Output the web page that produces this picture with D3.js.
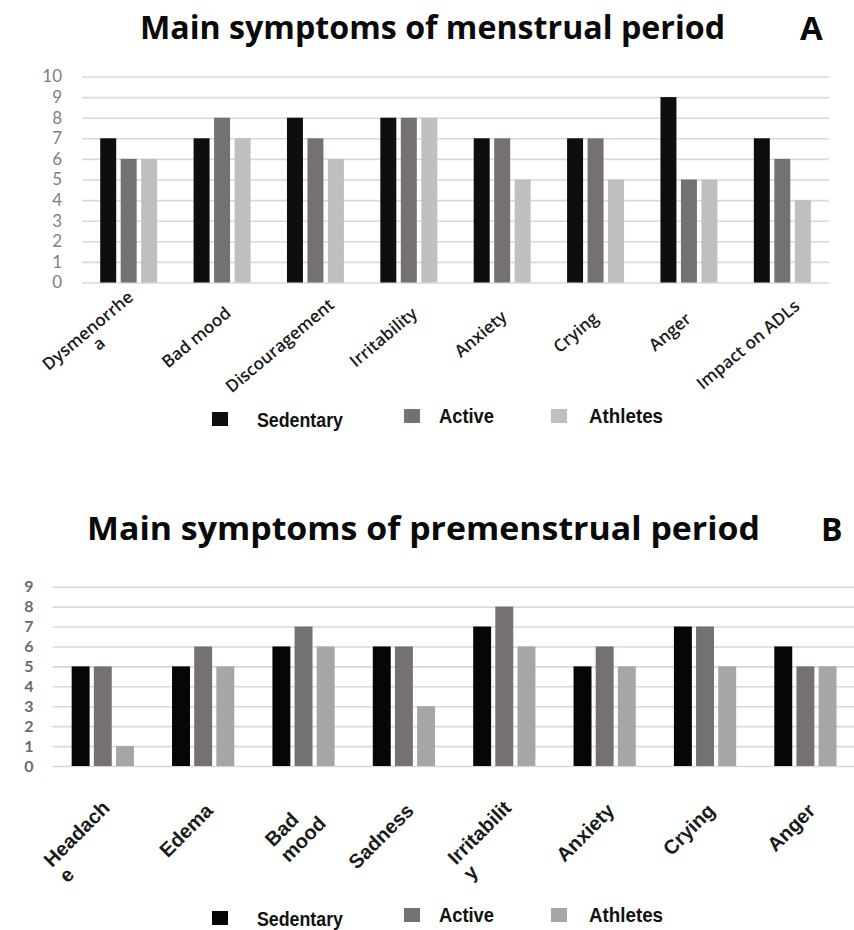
<!DOCTYPE html>
<html>
<head>
<meta charset="utf-8">
<script src="https://cdn.jsdelivr.net/npm/d3@7"></script>
<style>
  body { margin: 0; background: #fff; }
  svg { display: block; }
</style>
</head>
<body>
<div id="canvas"></div>
<script>
"use strict";

/* Data */
let seriesNames = ["Sedentary", "Active", "Athletes"];

// panel A - menstrual period ("\n" marks where the label wraps)
let categoriesA = ["Dysmenorrhe\na", "Bad mood", "Discouragement", "Irritability",
                   "Anxiety", "Crying", "Anger", "Impact on ADLs"];
let sedentaryA = [7, 7, 8, 8, 7, 7, 9, 7];
let activeA    = [6, 8, 7, 8, 7, 7, 5, 6];
let athletesA  = [6, 7, 6, 8, 5, 5, 5, 4];
let yTicksA = [0, 1, 2, 3, 4, 5, 6, 7, 8, 9, 10];

// panel B - premenstrual period
let categoriesB = ["Headach\ne", "Edema", "Bad\nmood", "Sadness",
                   "Irritabilit\ny", "Anxiety", "Crying", "Anger"];
let sedentaryB = [5, 5, 6, 6, 7, 5, 7, 6];
let activeB    = [5, 6, 7, 6, 8, 6, 7, 5];
let athletesB  = [1, 5, 6, 3, 6, 5, 5, 5];
let yTicksB = [0, 1, 2, 3, 4, 5, 6, 7, 8, 9];

let svgWidth = 854;
let svgHeight = 930;

let svg = d3.select("#canvas")
    .append("svg")
    .attr("width", svgWidth)
    .attr("height", svgHeight);

svg.append("rect")
    .attr("width", svgWidth)
    .attr("height", svgHeight)
    .attr("fill", "#ffffff");

// builds row objects for a panel
function makeRows(categories, s1, s2, s3) {
    return categories.map(function(c, i) {
        return { category: c, values: [s1[i], s2[i], s3[i]] };
    });
}

let panelA = {
    rows: makeRows(categoriesA, sedentaryA, activeA, athletesA),
    categories: categoriesA,
    yTicks: yTicksA,
    colors: ["#0e0e0e", "#767171", "#bfbfbf"],
    x0: 82, x1: 829, yBottom: 282.5, yTop: 76.5,
    pad: 0.39, padInner: 0.22,
    tickPadding: 20,
    tickFont: { size: "17px", weight: 400, fill: "#808080" },
    title: "Main symptoms of menstrual period", titleX: 140, titleY: 39,
    titleSize: 33, titleLength: 585, letter: "A", letterX: 800,
    label: { angle: -40, dx: -6, dy: 46, family: "'Open Sans', sans-serif", size: "17px",
             weight: 600, lineH: 17, mode: "A" },
    legendY: 409
};

let panelB = {
    rows: makeRows(categoriesB, sedentaryB, activeB, athletesB),
    categories: categoriesB,
    yTicks: yTicksB,
    colors: ["#060606", "#767171", "#a6a6a6"],
    x0: 52.6, x1: 855.6, yBottom: 766, yTop: 586.7,
    pad: 0.38, padInner: 0.19,
    tickPadding: 19,
    tickFont: { size: "16px", weight: 700, fill: "#6b6b6b" },
    title: "Main symptoms of premenstrual period", titleX: 87, titleY: 540,
    titleSize: 32, titleLength: 673, letter: "B", letterX: 821,
    label: { angle: -45, dx: 11, dy: 46, family: "'Liberation Sans', Arial, sans-serif", size: "20px",
             weight: 700, lineH: 22, mode: "B" },
    legendY: 908
};

drawPanel(panelA);
drawPanel(panelB);

function drawPanel(p) {
    // outer padding is half of the inner gap, like the spreadsheet layout
    let xScale = d3.scaleBand()
        .domain(p.categories)
        .range([p.x0, p.x1])
        .paddingInner(p.pad)
        .paddingOuter(p.pad / 2);

    let xInner = d3.scaleBand()
        .domain(seriesNames)
        .range([0, xScale.bandwidth()])
        .paddingInner(p.padInner);

    let yScale = d3.scaleLinear()
        .domain([0, d3.max(p.yTicks)])
        .range([p.yBottom, p.yTop]);

    // gridlines + y labels
    let yAxis = d3.axisLeft(yScale)
        .tickValues(p.yTicks)
        .tickFormat(d3.format("d"))
        .tickSize(-(p.x1 - p.x0))
        .tickPadding(p.tickPadding);

    let gy = svg.append("g")
        .attr("transform", "translate(" + p.x0 + ",0)")
        .call(yAxis);
    gy.select(".domain").remove();
    gy.selectAll(".tick line")
        .attr("stroke", "#d9d9d9")
        .attr("stroke-width", 1.6);
    gy.selectAll(".tick text")
        .attr("fill", p.tickFont.fill)
        .style("font-family", "Lato, sans-serif")
        .style("font-size", p.tickFont.size)
        .style("font-weight", p.tickFont.weight);

    // bars
    let groups = svg.selectAll("g.group" + p.letter)
        .data(p.rows)
        .join("g")
        .attr("class", "group" + p.letter)
        .attr("transform", function(d) { return "translate(" + xScale(d.category) + ",0)"; });

    groups.selectAll("rect")
        .data(function(d) {
            return d.values.map(function(v, i) { return { series: seriesNames[i], value: v, idx: i }; });
        })
        .join("rect")
        .attr("x", function(d) { return xInner(d.series); })
        .attr("y", function(d) { return yScale(d.value); })
        .attr("width", xInner.bandwidth())
        .attr("height", function(d) { return yScale(0) - yScale(d.value); })
        .attr("fill", function(d) { return p.colors[d.idx]; });

    // category labels (rotated, possibly wrapped)
    let L = p.label;
    p.categories.forEach(function(cat) {
        let lines = cat.split("\n");
        let cx = xScale(cat) + xScale.bandwidth() / 2;
        let g = svg.append("g")
            .attr("transform", "translate(" + (cx + L.dx) + "," + (p.yBottom + L.dy) + ") rotate(" + L.angle + ")");
        let texts = lines.map(function(line) {
            return g.append("text")
                .style("font-family", L.family)
                .style("font-size", L.size)
                .style("font-weight", L.weight)
                .attr("fill", "#1a1a1a")
                .text(line);
        });
        let widths = texts.map(function(t) { return t.node().getComputedTextLength(); });
        let maxW = d3.max(widths);
        let n = lines.length;
        texts.forEach(function(t, i) {
            if (L.mode === "A") {
                t.attr("text-anchor", "middle")
                    .attr("x", 0.25 * maxW - maxW / 2)
                    .attr("y", -15 * (n - 1) + i * L.lineH);
            } else {
                t.attr("text-anchor", "start")
                    .attr("x", -maxW)
                    .attr("y", (n > 1 ? -4 : 0) + i * L.lineH);
            }
        });
    });

    // title and panel letter
    svg.append("text")
        .attr("x", p.titleX)
        .attr("y", p.titleY)
        .attr("textLength", p.titleLength)
        .attr("lengthAdjust", "spacingAndGlyphs")
        .style("font-family", "'Open Sans', sans-serif")
        .style("font-weight", 700)
        .style("font-size", p.titleSize + "px")
        .attr("fill", "#0a0a0a")
        .text(p.title);

    svg.append("text")
        .attr("x", p.letterX)
        .attr("y", p.titleY + 1)
        .style("font-family", "'Open Sans', sans-serif")
        .style("font-weight", 700)
        .style("font-size", p.titleSize + "px")
        .attr("fill", "#0a0a0a")
        .text(p.letter);

    drawLegend(p);
}

function drawLegend(p) {
    let boxX = [212, 404, 551];
    let textX = [257, 439, 589];
    let textLen = [86, 55, 74];
    let y = p.legendY;

    for (let i = 0; i < seriesNames.length; i++) {
        let low = (i === 0) ? 3 : 0; // first entry sits a little lower
        svg.append("rect")
            .attr("x", boxX[i])
            .attr("y", y + low)
            .attr("width", 16)
            .attr("height", 14)
            .attr("fill", p.colors[i]);

        svg.append("text")
            .attr("x", textX[i])
            .attr("y", y + 14 + (i === 0 ? 4 : 0))
            .attr("textLength", textLen[i])
            .attr("lengthAdjust", "spacingAndGlyphs")
            .style("font-family", "'Liberation Sans Narrow', 'Liberation Sans', Arial, sans-serif")
            .style("font-weight", 700)
            .style("font-size", "21px")
            .attr("fill", "#111")
            .text(seriesNames[i]);
    }
}
</script>
</body>
</html>
